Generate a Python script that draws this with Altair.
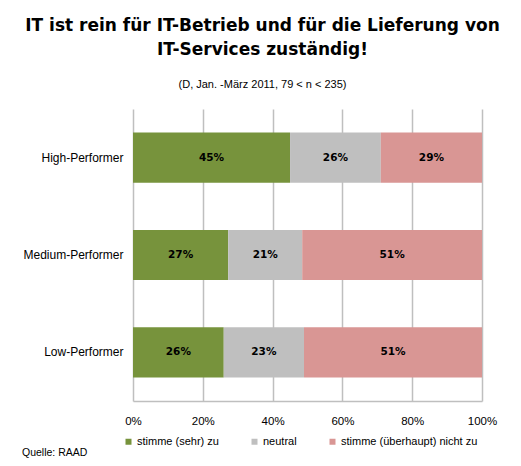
import altair as alt
import pandas as pd

groups = ["High-Performer", "Medium-Performer", "Low-Performer"]
categories = ["stimme (sehr) zu", "neutral", "stimme (überhaupt) nicht zu"]
agree = [45, 27, 26]
neutral = [26, 21, 23]
disagree = [29, 51, 51]
colors = ["#77933C", "#BFBFBF", "#D99694"]
ticks = [0, 0.2, 0.4, 0.6, 0.8, 1.0]

rows = []
for i, g in enumerate(groups):
    for j, (c, v) in enumerate(zip(categories, [agree[i], neutral[i], disagree[i]])):
        rows.append({"group": g, "cat": c, "order": j, "value": v})
df = pd.DataFrame(rows)

font = "DejaVu Sans"
font2 = "Liberation Sans"

base = alt.Chart(df).transform_stack(
    stack="value", as_=["x0", "x1"], groupby=["group"], sort=[alt.SortField("order")],
    offset="normalize"
).transform_calculate(mid="(datum.x0 + datum.x1) / 2", label="datum.value + '%'")

y = alt.Y("group:N", sort=groups, title=None,
          scale=alt.Scale(paddingInner=0.485, paddingOuter=0.2425),
          axis=alt.Axis(labelFont=font2, labelFontSize=12, labelColor="#000", labelPadding=10,
                        ticks=False, domain=False, grid=False))

bars = base.mark_bar().encode(
    y=y,
    x=alt.X("x0:Q", title=None, scale=alt.Scale(domain=[0, 1], nice=False),
            axis=alt.Axis(values=ticks, labelExpr="round(datum.value * 100) + '%'", labelFont=font2,
                          labelFontSize=11.5, labelColor="#000", labelPadding=14, ticks=False,
                          labelFlush=False,
                          grid=True, gridColor="#BFBFBF", gridWidth=1.5,
                          domainColor="#BFBFBF", domainWidth=1.5)),
    x2="x1:Q",
    color=alt.Color("cat:N", sort=categories, scale=alt.Scale(domain=categories, range=colors),
                    legend=alt.Legend(title=None, orient="none", direction="horizontal",
                                      legendX=-10, legendY=327, symbolType="square", symbolSize=36,
                                      labelFont=font2, labelFontSize=11, labelColor="#000",
                                      columnPadding=30, symbolOffset=0, labelOffset=3,
                                      symbolStrokeWidth=0)),
)

labels = base.mark_text(font=font, fontSize=10.5, fontWeight="bold", color="#000").encode(
    y=alt.Y("group:N", sort=groups),
    x=alt.X("mid:Q"),
    text="label:N",
)

source = alt.Chart(pd.DataFrame({"t": ["Quelle: RAAD"]})).mark_text(
    font=font2, fontSize=10.5, color="#000", align="left", baseline="middle"
).encode(text="t:N", x=alt.value(-111), y=alt.value(344))

chart = alt.layer(bars, labels, source).properties(
    width=349, height=292,
    autosize=alt.AutoSizeParams(type="none"),
    padding={"left": 125, "top": 101, "right": 31, "bottom": 57},
    title=alt.Title(
        text=["IT ist rein für IT-Betrieb und für die Lieferung von", "IT-Services zuständig!"],
        subtitle="(D, Jan. -März 2011, 79 < n < 235)",
        font=font, fontSize=17, fontWeight="bold", color="#000", lineHeight=24,
        subtitleFont=font2, subtitleFontSize=11, subtitleColor="#000", subtitlePadding=20,
        anchor="middle", frame="group", dx=-45, offset=18,
    ),
).configure_view(stroke=None)

chart.save("out.html", embed_options={"renderer": "svg", "actions": False})
